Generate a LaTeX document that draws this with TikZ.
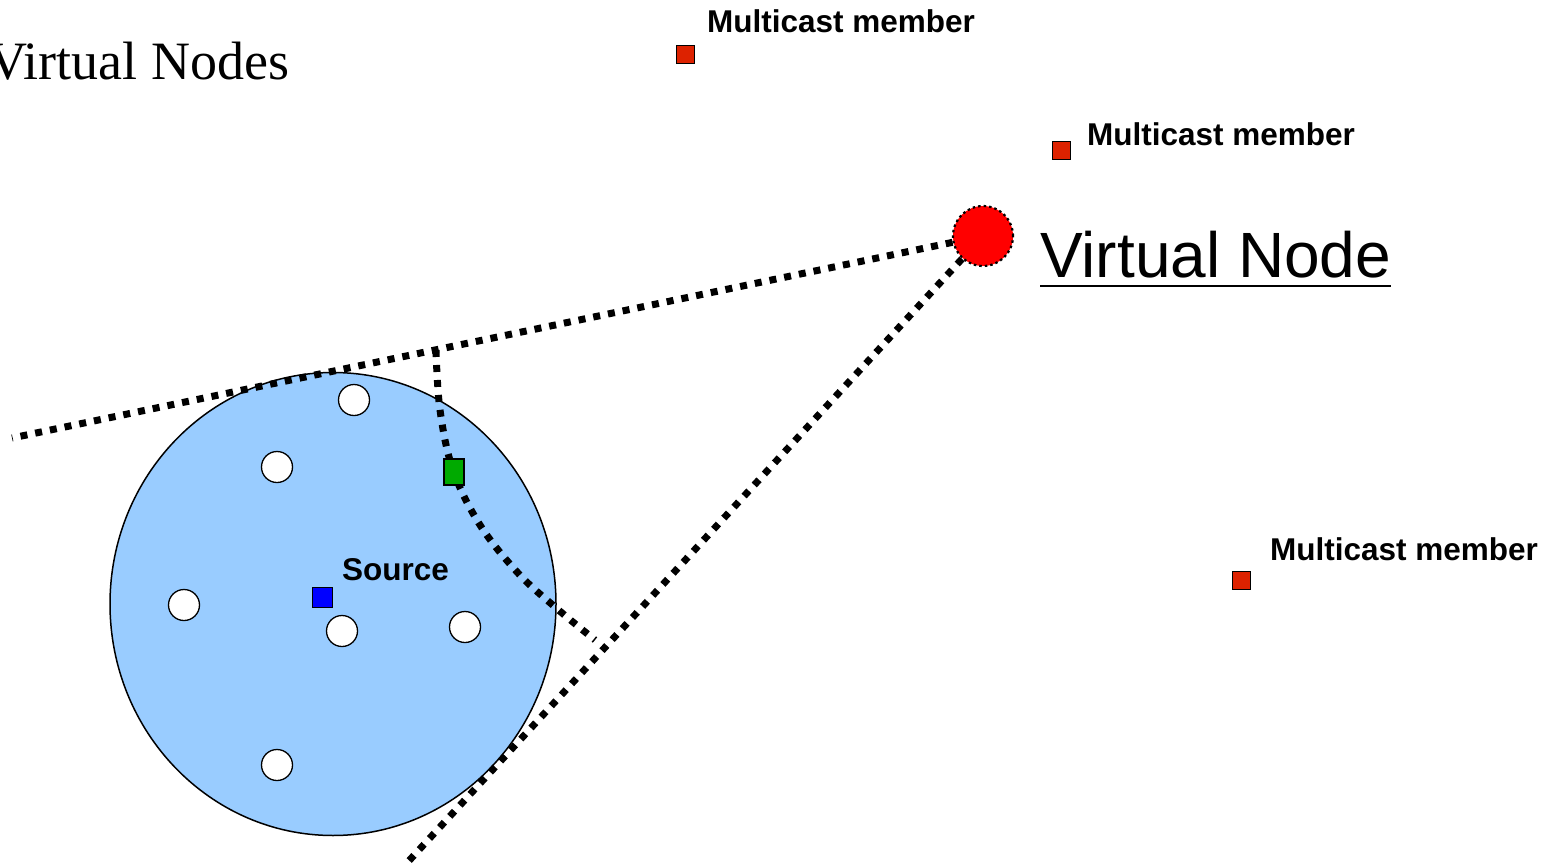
\documentclass[tikz,border=0pt]{standalone}
\usepackage{fontspec}
\setmainfont{Liberation Sans}
\newfontfamily\serifface{Liberation Serif}
\usetikzlibrary{calc,shapes.geometric}
\definecolor{regionblue}{HTML}{99CCFF}
\definecolor{memberred}{HTML}{DD2200}
\definecolor{gatewaygreen}{HTML}{00AA00}
\tikzset{
  bigdots/.style={line width=7pt, dash pattern=on 7pt off 8pt, line cap=butt},
  host/.style={circle, draw=black, line width=1.3pt, fill=white, minimum size=31pt, inner sep=0pt},
  member/.style={rectangle, draw=black, line width=1pt, fill=memberred, minimum size=18pt, inner sep=0pt},
  memberlabel/.style={anchor=base west, inner sep=0pt, font=\fontsize{31.5}{37}\selectfont\bfseries},
}
\begin{document}
\begin{tikzpicture}[x=1pt, y=-1pt]
\useasboundingbox (0,0) rectangle (1553,867);
\fill[white] (0,0) rectangle (1553,867);
\clip (0,0) rectangle (1553,867);

% title
\node[anchor=base west, inner sep=0pt, font=\serifface\fontsize{54}{60}\selectfont] (title) at (-12,80) {Virtual Nodes};

% local region around the source
\node[ellipse, draw=black, line width=1.5pt, fill=regionblue, minimum width=446pt, minimum height=463pt, inner sep=0pt] (region) at (333,604) {};

% hosts inside the region
\node[host] (h1) at (354,400) {};
\node[host] (h2) at (277,467) {};
\node[host] (h3) at (184,605) {};
\node[host] (h4) at (342,631) {};
\node[host] (h5) at (465,627) {};
\node[host] (h6) at (277,765) {};

% source
\node[rectangle, draw=black, line width=1pt, fill=blue, minimum size=20pt, inner sep=0pt] (src) at (322,597) {};
\node[anchor=base west, inner sep=0pt, font=\fontsize{31.5}{37}\selectfont\bfseries] (srclabel) at (342,580) {Source};

% virtual node
\node[circle, fill=red, draw=black, line width=2.2pt, dash pattern=on 2.5pt off 3pt, minimum size=60pt, inner sep=0pt] (vn) at (983,236) {};
\node[anchor=base west, inner sep=0pt, font=\fontsize{64}{70}\selectfont] (vnlabel) at (1040,277) {Virtual Node};
\draw[line width=2.5pt] (vnlabel.base west) ++(0,9) coordinate (ul1) -- ($(vnlabel.base east)+(0,9)$) coordinate (ul2);

% tangent lines from the virtual node
\coordinate (t1) at (12,438);
\coordinate (t2) at (406,864);
\draw[bigdots] (vn) -- (t1);
\draw[bigdots] (vn) -- (t2);

% boundary of the region reaching the virtual node
\coordinate (b0) at (436,350);
\coordinate (b1) at (595,640);
\draw[bigdots] plot[smooth, tension=0.6] coordinates {(b0) (440,410) (453,470) (480,525) (518,573) (555,607) (b1)};

% gateway
\node[rectangle, draw=black, line width=1.2pt, fill=gatewaygreen, minimum width=20pt, minimum height=26pt, inner sep=0pt] (gw) at (454,472) {};

% multicast members
\node[member] (m1) at (685,55) {};
\node[memberlabel] (m1l) at (707,33) {Multicast member};
\node[member] (m2) at (1061,150) {};
\node[memberlabel] (m2l) at (1087,145) {Multicast member};
\node[member] (m3) at (1241,580) {};
\node[memberlabel] (m3l) at (1270,560) {Multicast member};
\end{tikzpicture}
\end{document}
